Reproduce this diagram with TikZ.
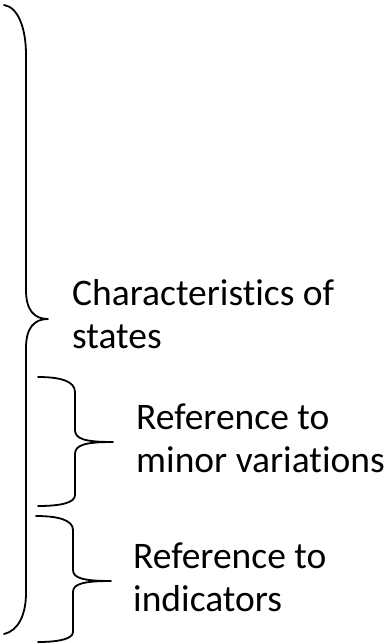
\documentclass[tikz,border=0pt]{standalone}
\usepackage{fontspec}
\setmainfont{Carlito}[Ligatures={NoCommon}]
\begin{document}
\begin{tikzpicture}[x=1pt,y=-1pt,
  brace/.style={line width=1.8pt,line cap=round,line join=round},
  label/.style={anchor=base west,inner sep=0pt,align=left,
    font=\fontsize{37.5}{43}\selectfont}]
\useasboundingbox (0,0) rectangle (385,644);
% big brace
\draw[brace] (4,5) .. controls (18,7) and (26,28) .. (26,55)
  -- (26,290) .. controls (26,310) and (34,319) .. (48,319)
  .. controls (34,319) and (26,328) .. (26,348)
  -- (26,593) .. controls (26,615) and (18,631) .. (4,634);
% brace for minor variations
\draw[brace] (38,377) .. controls (60,377) and (75,381) .. (75,392)
  -- (75,430) .. controls (75,439) and (85,442) .. (113,442)
  .. controls (85,442) and (75,445) .. (75,454)
  -- (75,495) .. controls (75,503) and (60,506) .. (38,506);
% brace for indicators
\draw[brace] (36,516) .. controls (58,516) and (73,520) .. (73,530)
  -- (73,570) .. controls (73,578) and (83,581) .. (111,581)
  .. controls (83,581) and (73,584) .. (73,592)
  -- (73,632) .. controls (73,639) and (58,642) .. (38,642);
% base anchor of a two-line node is the baseline of its last line
\node[label] (states) at (72,348) {Characteristics of\\states};
\node[label] (minor) at (136,472) {Reference to\\minor variations};
\node[label] (indic) at (133,611) {Reference to\\indicators};
\end{tikzpicture}
\end{document}
